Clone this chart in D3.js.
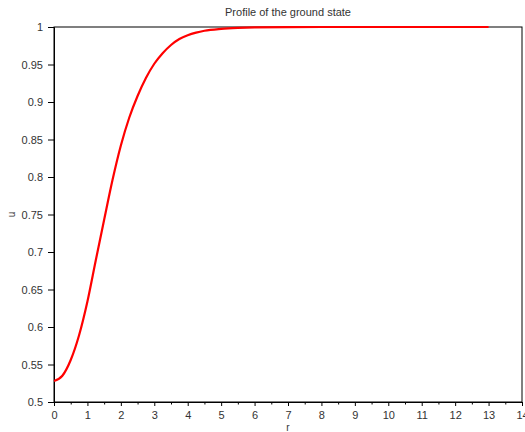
<!DOCTYPE html>
<html lang="en">
<head>
  <meta charset="utf-8">
  <title>Profile of the ground state</title>
  <script src="https://d3js.org/d3.v7.min.js"></script>
  <style>
    body { margin: 0; background: #fff; }
    text { font-family: "Liberation Sans", Arial, sans-serif; fill: #333; }
    .axis path, .axis line { stroke: #000; }
  </style>
</head>
<body>
<div id="chart"></div>
<script>
  // values
  var rValues = [0, 0.25, 0.5, 0.75, 1, 1.25, 1.5, 1.75, 2, 2.25, 2.5, 2.75, 3, 3.25, 3.5, 3.75, 4, 4.25, 4.5, 5, 5.5, 6, 7, 8, 9, 10, 11, 12, 13];
  var uValues = [0.528, 0.535, 0.556, 0.589, 0.634, 0.689, 0.743, 0.796, 0.842, 0.879, 0.908, 0.932, 0.951, 0.965, 0.976, 0.984, 0.989, 0.9925, 0.995, 0.9975, 0.9988, 0.9995, 0.9999, 1, 1, 1, 1, 1, 1];
  var xTicks = [0, 1, 2, 3, 4, 5, 6, 7, 8, 9, 10, 11, 12, 13, 14];
  var yTicks = [0.5, 0.55, 0.6, 0.65, 0.7, 0.75, 0.8, 0.85, 0.9, 0.95, 1];

  var width = 525, height = 432;
  var margin = {top: 27, right: 3, bottom: 30, left: 54};

  var svg = d3.select("#chart").append("svg")
      .attr("width", width)
      .attr("height", height);

  var x = d3.scaleLinear().domain([0, 14]).range([margin.left, width - margin.right]);
  var y = d3.scaleLinear().domain([0.5, 1]).range([height - margin.bottom, margin.top]);

  // box
  svg.append("rect")
      .attr("x", x(0)).attr("y", y(1))
      .attr("width", x(14) - x(0)).attr("height", y(0.5) - y(1))
      .attr("fill", "none").attr("stroke", "#000").attr("stroke-width", 1);

  // minor x ticks
  svg.append("g")
      .attr("class", "axis")
      .attr("transform", "translate(0," + y(0.5) + ")")
      .call(d3.axisBottom(x).tickValues(d3.range(0.5, 14, 1)).tickSize(2.5).tickFormat(""))
      .call(function(g) { g.select(".domain").remove(); });

  var xAxis = svg.append("g")
      .attr("class", "axis")
      .attr("transform", "translate(0," + y(0.5) + ")")
      .call(d3.axisBottom(x).tickValues(xTicks).tickSize(4).tickPadding(5).tickFormat(d3.format("d")));
  xAxis.selectAll("text").attr("font-size", 11).attr("fill", "#333");

  var yAxis = svg.append("g")
      .attr("class", "axis")
      .attr("transform", "translate(" + x(0) + ",0)")
      .call(d3.axisLeft(y).tickValues(yTicks).tickSize(6).tickPadding(5).tickFormat(function(d) { return String(+d.toFixed(2)); }));
  yAxis.selectAll("text").attr("font-size", 11).attr("fill", "#333");

  var line = d3.line()
      .x(function(d, i) { return x(rValues[i]); })
      .y(function(d) { return y(d); })
      .curve(d3.curveMonotoneX);

  svg.append("path")
      .datum(uValues)
      .attr("d", line)
      .attr("fill", "none")
      .attr("stroke", "#ff0000")
      .attr("stroke-width", 2.2);

  svg.append("text")
      .attr("x", (x(0) + x(14)) / 2)
      .attr("y", 16)
      .attr("text-anchor", "middle")
      .attr("font-size", 11)
      .text("Profile of the ground state");

  svg.append("text")
      .attr("x", (x(0) + x(14)) / 2)
      .attr("y", 431)
      .attr("text-anchor", "middle")
      .attr("font-size", 10)
      .text("r");

  svg.append("text")
      .attr("transform", "translate(15," + ((y(0.5) + y(1)) / 2) + ") rotate(-90)")
      .attr("text-anchor", "middle")
      .attr("font-size", 10)
      .text("u");
</script>
</body>
</html>
